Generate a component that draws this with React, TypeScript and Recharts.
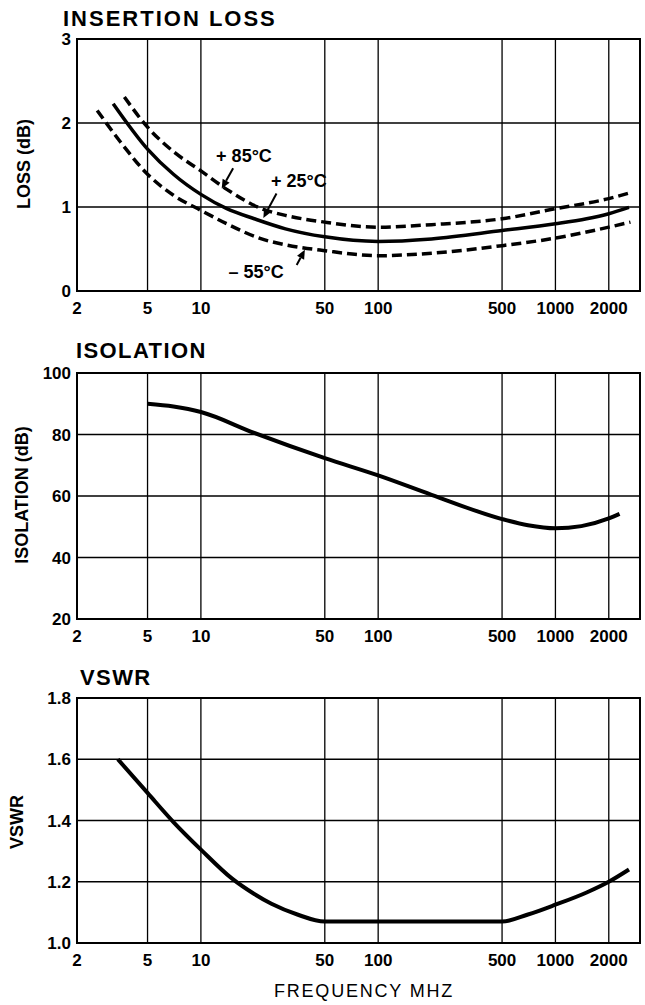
import React from 'react';
import {
  LineChart,
  Line,
  XAxis,
  YAxis,
  CartesianGrid,
  ReferenceArea,
  ReferenceLine,
  ReferenceDot,
} from 'recharts';

const FONT = '"Liberation Sans", Arial, Helvetica, sans-serif';

// shared frequency axis (MHz, log)
const freqDomain = [2, 3000];
const freqTicks = [2, 5, 10, 50, 100, 500, 1000, 2000];

// insertion loss (dB) per temperature
const lossTicks = [0, 1, 2, 3];
const loss25Freq = [3.2, 5, 7, 10, 14, 20, 30, 50, 100, 200, 500, 1000, 1500, 2000, 2600];
const loss25 = [2.23, 1.69, 1.39, 1.15, 0.98, 0.86, 0.74, 0.645, 0.59, 0.62, 0.72, 0.8, 0.86, 0.92, 0.995];
const loss85Freq = [3.7, 5, 7, 10, 14, 22, 30, 50, 100, 200, 500, 1000, 2000, 2650];
const loss85 = [2.31, 1.95, 1.66, 1.43, 1.21, 0.98, 0.9, 0.82, 0.76, 0.79, 0.86, 0.98, 1.1, 1.17];
const lossM55Freq = [2.6, 3.5, 5, 7, 10, 14, 22, 30, 50, 100, 200, 500, 1000, 2000, 2650];
const lossM55 = [2.15, 1.78, 1.39, 1.14, 0.96, 0.8, 0.62, 0.55, 0.48, 0.42, 0.45, 0.54, 0.63, 0.76, 0.82];

// callouts: [text, label f, label y, arrow from f, from y, to f, to y]
const lossNotes: [string, number, number, number, number, number, number][] = [
  ['+ 85°C', 17.5, 1.61, 15.2, 1.46, 13.1, 1.22],
  ['+ 25°C', 35.7, 1.32, 26.7, 1.16, 22.5, 0.87],
  ['– 55°C', 20.5, 0.23, 34.7, 0.31, 38.6, 0.49],
];

// isolation (dB)
const isoTicks = [20, 40, 60, 80, 100];
const isoFreq = [5, 7, 10, 20, 50, 100, 200, 500, 700, 1000, 1400, 2000, 2300];
const iso = [90, 89.1, 87.3, 80.5, 72.3, 66.7, 60.4, 52.5, 50.5, 49.5, 50.2, 52.7, 54.2];

// VSWR
const vswrTicks = [1.0, 1.2, 1.4, 1.6, 1.8];
const vswrFreq = [3.4, 5, 7, 10, 15, 20, 25, 35, 50, 100, 500, 700, 1000, 1500, 2000, 2600];
const vswr = [1.6, 1.49, 1.395, 1.305, 1.21, 1.16, 1.128, 1.093, 1.07, 1.07, 1.07, 1.093, 1.125, 1.165, 1.2, 1.24];

const toRows = (fs: number[], vs: number[]) => fs.map((f, i) => ({ f, v: vs[i] }));

const tickStyle = { fontFamily: FONT, fontSize: 17, fontWeight: 700, fill: '#000' };

function ArrowLine(props: any) {
  const { x1, y1, x2, y2 } = props;
  const a = Math.atan2(y2 - y1, x2 - x1);
  const len = 9;
  const half = 4;
  const bx = x2 - len * Math.cos(a);
  const by = y2 - len * Math.sin(a);
  const px = -Math.sin(a) * half;
  const py = Math.cos(a) * half;
  return (
    <g>
      <line x1={x1} y1={y1} x2={bx} y2={by} stroke="#000" strokeWidth={2} />
      <polygon points={`${x2},${y2} ${bx + px},${by + py} ${bx - px},${by - py}`} fill="#000" />
    </g>
  );
}

const titleStyle: React.CSSProperties = {
  position: 'absolute',
  fontFamily: FONT,
  fontWeight: 700,
  fontSize: 22,
  lineHeight: '22px',
  letterSpacing: 1.4,
  whiteSpace: 'nowrap',
};

function YTitle({ text, x, y }: { text: string; x: number; y: number }) {
  return (
    <div
      style={{
        position: 'absolute',
        left: x,
        top: y,
        transform: 'translate(-50%, -50%) rotate(-90deg)',
        fontFamily: FONT,
        fontWeight: 700,
        fontSize: 18,
        whiteSpace: 'nowrap',
      }}
    >
      {text}
    </div>
  );
}

export default function App() {
  const xAxisProps = {
    type: 'number' as const,
    dataKey: 'f',
    scale: 'log' as const,
    domain: freqDomain,
    ticks: freqTicks,
    allowDataOverflow: true,
    interval: 0 as const,
    tick: tickStyle,
    tickLine: false,
    axisLine: false,
    tickSize: 0,
    tickMargin: 11,
  };
  const yAxisProps = {
    type: 'number' as const,
    interval: 0 as const,
    tick: tickStyle,
    tickLine: false,
    axisLine: false,
    tickSize: 0,
    tickMargin: 6,
    width: 77,
  };
  const grid = <CartesianGrid stroke="#000" strokeWidth={1.3} />;

  return (
    <div style={{ position: 'absolute', left: 0, top: 0, width: 645, height: 1005, background: '#fff' }}>
      {/* INSERTION LOSS */}
      <div style={{ ...titleStyle, left: 63, top: 8, letterSpacing: 2 }}>INSERTION LOSS</div>
      <YTitle text="LOSS (dB)" x={24} y={164} />
      <div style={{ position: 'absolute', left: 0, top: 0 }}>
        <LineChart width={645} height={330} margin={{ top: 39, right: 5, bottom: 0, left: 0 }}>
          {grid}
          <XAxis {...xAxisProps} height={39} />
          <YAxis {...yAxisProps} domain={[0, 3]} ticks={lossTicks} />
          <ReferenceArea x1={2} x2={3000} y1={0} y2={3} fill="none" stroke="#000" strokeWidth={2} />
          <Line data={toRows(loss85Freq, loss85)} dataKey="v" type="monotone" stroke="#000" strokeWidth={3.5}
            strokeDasharray="10 5" dot={false} isAnimationActive={false} />
          <Line data={toRows(loss25Freq, loss25)} dataKey="v" type="monotone" stroke="#000" strokeWidth={3.5}
            dot={false} isAnimationActive={false} />
          <Line data={toRows(lossM55Freq, lossM55)} dataKey="v" type="monotone" stroke="#000" strokeWidth={3.5}
            strokeDasharray="10 5" dot={false} isAnimationActive={false} />
          {lossNotes.map(([text, lf, ly, af, ay, bf, by]) => (
            <ReferenceLine key={text + 'a'} segment={[{ x: af, y: ay }, { x: bf, y: by }]} shape={ArrowLine} />
          ))}
          {lossNotes.map(([text, lf, ly]) => (
            <ReferenceDot key={text} x={lf} y={ly} r={0} fill="none" stroke="none"
              label={{ value: text, position: 'center', fontFamily: FONT, fontSize: 18, fontWeight: 700, fill: '#000' }} />
          ))}
        </LineChart>
      </div>

      {/* ISOLATION */}
      <div style={{ ...titleStyle, left: 76, top: 340 }}>ISOLATION</div>
      <YTitle text="ISOLATION (dB)" x={22} y={495} />
      <div style={{ position: 'absolute', left: 0, top: 330 }}>
        <LineChart width={645} height={330} margin={{ top: 43, right: 5, bottom: 0, left: 0 }}>
          {grid}
          <XAxis {...xAxisProps} height={41} />
          <YAxis {...yAxisProps} domain={[20, 100]} ticks={isoTicks} />
          <ReferenceArea x1={2} x2={3000} y1={20} y2={100} fill="none" stroke="#000" strokeWidth={2} />
          <Line data={toRows(isoFreq, iso)} dataKey="v" type="monotone" stroke="#000" strokeWidth={4}
            dot={false} isAnimationActive={false} />
        </LineChart>
      </div>

      {/* VSWR */}
      <div style={{ ...titleStyle, left: 80, top: 667 }}>VSWR</div>
      <YTitle text="VSWR" x={17} y={822} />
      <div style={{ position: 'absolute', left: 0, top: 660 }}>
        <LineChart width={645} height={345} margin={{ top: 38, right: 5, bottom: 0, left: 0 }}>
          {grid}
          <XAxis {...xAxisProps} height={62} />
          <YAxis {...yAxisProps} domain={[1, 1.8]} ticks={vswrTicks} tickFormatter={(v: number) => v.toFixed(1)} />
          <ReferenceArea x1={2} x2={3000} y1={1} y2={1.8} fill="none" stroke="#000" strokeWidth={2} />
          <Line data={toRows(vswrFreq, vswr)} dataKey="v" type="monotone" stroke="#000" strokeWidth={4}
            dot={false} isAnimationActive={false} />
        </LineChart>
      </div>
      <div
        style={{
          position: 'absolute',
          left: 364,
          top: 982,
          transform: 'translateX(-50%)',
          fontFamily: FONT,
          fontSize: 18,
          lineHeight: '18px',
          letterSpacing: 1.8,
          whiteSpace: 'nowrap',
        }}
      >
        FREQUENCY MHZ
      </div>
    </div>
  );
}
